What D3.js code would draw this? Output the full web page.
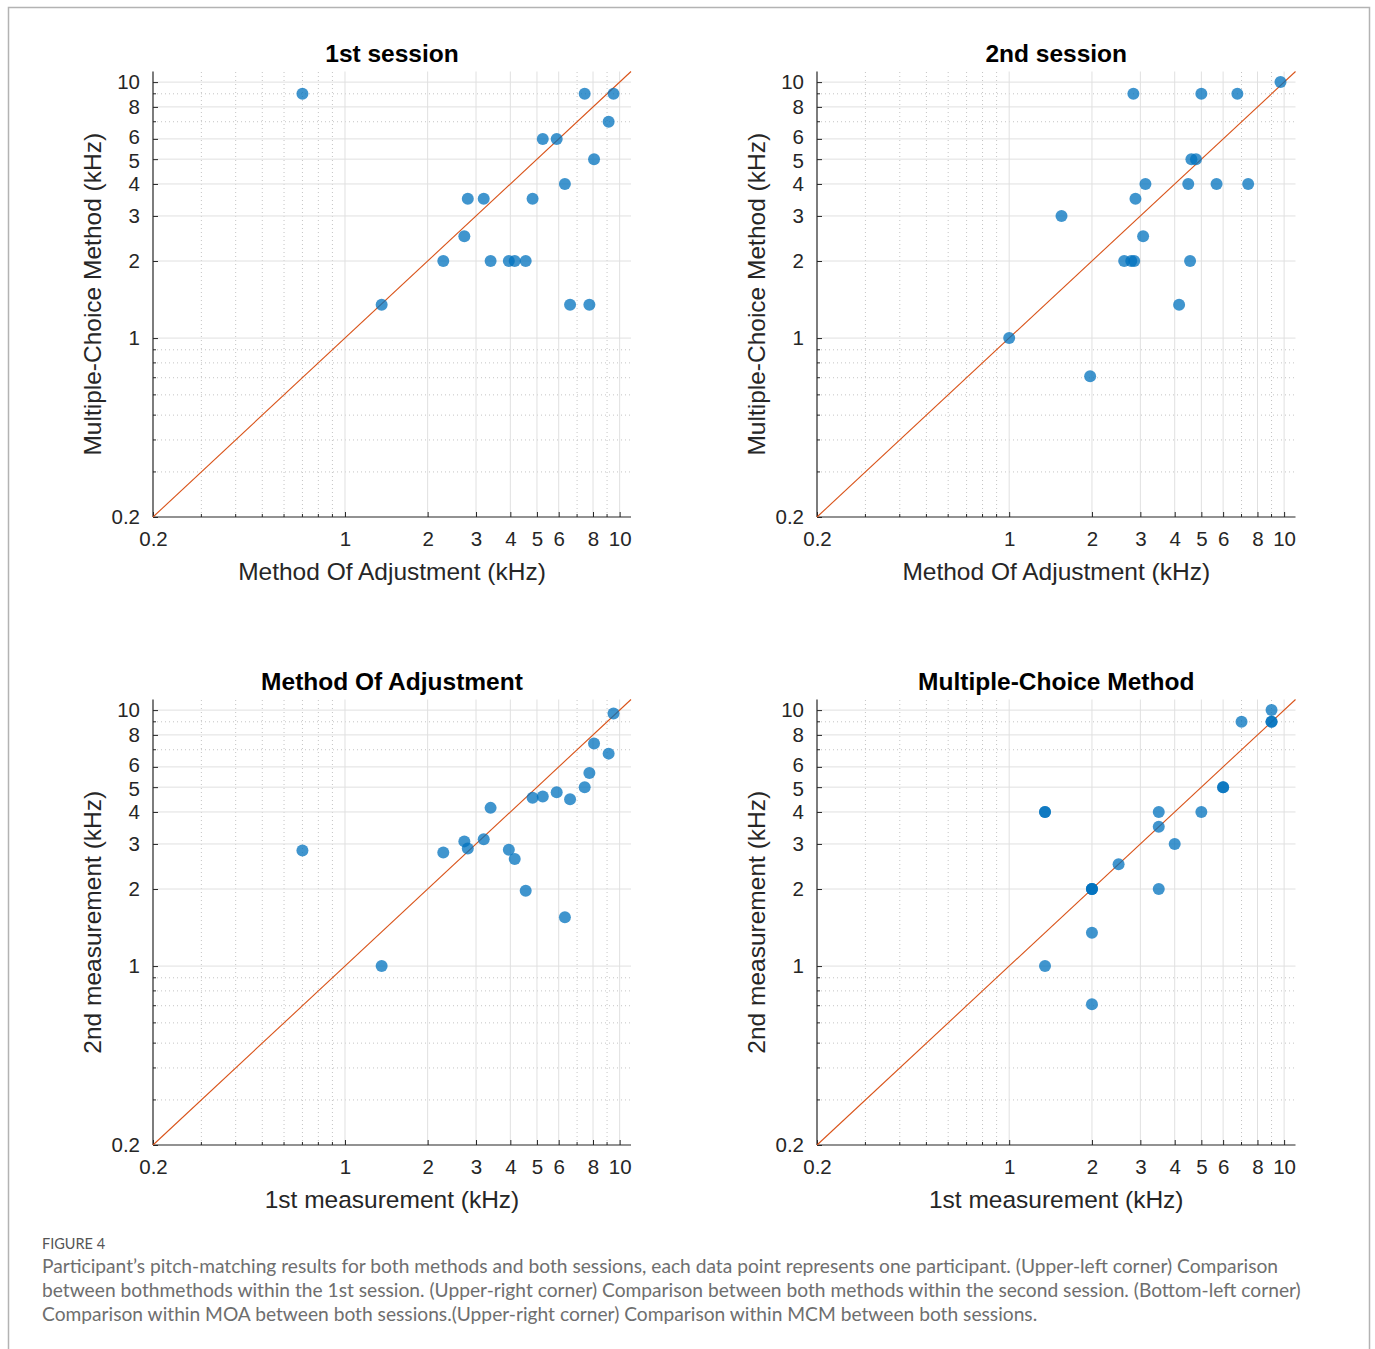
<!DOCTYPE html>
<html>
<head>
<meta charset="utf-8">
<script src="https://cdn.jsdelivr.net/npm/d3@7"></script>
<style>
  html, body { margin: 0; padding: 0; background: #fff; }
  svg { display: block; }
</style>
</head>
<body>
<svg id="fig" width="1375" height="1349"></svg>
<script>
// ---- data (kHz), one entry per participant ----
const moa1 = [0.70, 1.36, 2.28, 2.72, 2.80, 3.20, 3.39, 3.95, 4.15, 4.55, 4.82, 5.25, 5.90, 6.32, 6.60, 7.46, 7.76, 8.07, 9.12, 9.50];
const mcm1 = [9, 1.35, 2, 2.5, 3.5, 3.5, 2, 2, 2, 2, 3.5, 6, 6, 4, 1.35, 9, 1.35, 5, 7, 9];
const moa2 = [2.83, 1.0, 2.78, 3.07, 2.88, 3.13, 4.15, 2.85, 2.62, 1.97, 4.55, 4.6, 4.78, 1.55, 4.48, 5.0, 5.68, 7.4, 6.76, 9.7];
const mcm2 = [9, 1, 2, 2.5, 3.5, 4, 1.35, 2, 2, 0.71, 2, 5, 5, 3, 4, 9, 4, 4, 9, 10];

const panelTitles = ["1st session", "2nd session", "Method Of Adjustment", "Multiple-Choice Method"];
const xLabels = ["Method Of Adjustment (kHz)", "Method Of Adjustment (kHz)", "1st measurement (kHz)", "1st measurement (kHz)"];
const yLabels = ["Multiple-Choice Method (kHz)", "Multiple-Choice Method (kHz)", "2nd measurement (kHz)", "2nd measurement (kHz)"];
const panelX = [moa1, moa2, moa1, mcm1];
const panelY = [mcm1, mcm2, moa2, mcm2];

const domain = [0.2, 11];
const tickValues = [0.2, 1, 2, 3, 4, 5, 6, 8, 10];
const tickLabels = ["0.2", "1", "2", "3", "4", "5", "6", "8", "10"];
const majorGrid = [1, 2, 3, 4, 5, 6, 8, 10];
const minorGrid = [0.3, 0.4, 0.5, 0.6, 0.7, 0.8, 0.9, 7, 9];

const caption = [
  "Participant\u2019s pitch-matching results for both methods and both sessions, each data point represents one participant. (Upper-left corner) Comparison",
  "between bothmethods within the 1st session. (Upper-right corner) Comparison between both methods within the second session. (Bottom-left corner)",
  "Comparison within MOA between both sessions.(Upper-right corner) Comparison within MCM between both sessions."
];

// ---- layout ----
const svg = d3.select("#fig");
const FONT = "'Liberation Sans', Arial, Helvetica, sans-serif";
const axisColor = "#262626";

// border frame
svg.append("rect").attr("x", 8.5).attr("y", 7.5).attr("width", 1361).attr("height", 1360)
  .attr("fill", "none").attr("stroke", "#b3b3b3").attr("stroke-width", 1.5);

const boxes = [
  {x0: 153, x1: 631, y0: 517, y1: 71.5},
  {x0: 817, x1: 1295.5, y0: 517, y1: 71.5},
  {x0: 153, x1: 631, y0: 1145, y1: 699.5},
  {x0: 817, x1: 1295.5, y0: 1145, y1: 699.5}
];

boxes.forEach((b, i) => {
  const x = d3.scaleLog().domain(domain).range([b.x0, b.x1]);
  const y = d3.scaleLog().domain(domain).range([b.y0, b.y1]);
  const g = svg.append("g");

  // minor grid (dotted)
  g.selectAll(".mgx").data(minorGrid).join("line")
    .attr("x1", d => x(d)).attr("x2", d => x(d)).attr("y1", b.y0).attr("y2", b.y1)
    .attr("stroke", "#c4c4c4").attr("stroke-width", 1).attr("stroke-dasharray", "1,3");
  g.selectAll(".mgy").data(minorGrid).join("line")
    .attr("y1", d => y(d)).attr("y2", d => y(d)).attr("x1", b.x0).attr("x2", b.x1)
    .attr("stroke", "#c4c4c4").attr("stroke-width", 1).attr("stroke-dasharray", "1,3");
  // major grid (solid)
  g.selectAll(".Mgx").data(majorGrid).join("line")
    .attr("x1", d => x(d)).attr("x2", d => x(d)).attr("y1", b.y0).attr("y2", b.y1)
    .attr("stroke", "#e0e0e0").attr("stroke-width", 1);
  g.selectAll(".Mgy").data(majorGrid).join("line")
    .attr("y1", d => y(d)).attr("y2", d => y(d)).attr("x1", b.x0).attr("x2", b.x1)
    .attr("stroke", "#e0e0e0").attr("stroke-width", 1);

  // axes (ticks inward)
  const xAxis = d3.axisBottom(x).tickValues(tickValues).tickFormat((d, k) => tickLabels[k])
    .tickSizeInner(-5).tickSizeOuter(0).tickPadding(14);
  const gx = g.append("g").attr("transform", `translate(0,${b.y0})`).call(xAxis);
  const yAxis = d3.axisLeft(y).tickValues(tickValues).tickFormat((d, k) => tickLabels[k])
    .tickSizeInner(-5).tickSizeOuter(0).tickPadding(13);
  const gy = g.append("g").attr("transform", `translate(${b.x0},0)`).call(yAxis);
  [gx, gy].forEach(a => {
    a.select(".domain").attr("stroke", axisColor).attr("stroke-width", 1.2)
      .attr("d", a === gx ? `M${b.x0},0H${b.x1}` : `M0,${b.y0}V${b.y1}`);
    a.selectAll(".tick line").attr("stroke", axisColor);
    a.selectAll(".tick text").attr("fill", axisColor).style("font-family", FONT).style("font-size", "20.5px");
  });
  // keep the closely spaced 5 / 6 labels from touching
  gy.selectAll(".tick text").attr("y", d => d === 6 ? -1.8 : d === 5 ? 1.8 : 0);

  // minor ticks
  g.selectAll(".mtx").data(minorGrid).join("line")
    .attr("x1", d => x(d)).attr("x2", d => x(d)).attr("y1", b.y0).attr("y2", b.y0 - 3)
    .attr("stroke", axisColor);
  g.selectAll(".mty").data(minorGrid).join("line")
    .attr("y1", d => y(d)).attr("y2", d => y(d)).attr("x1", b.x0).attr("x2", b.x0 + 3)
    .attr("stroke", axisColor);

  // identity line
  g.append("line")
    .attr("x1", x(domain[0])).attr("y1", y(domain[0]))
    .attr("x2", x(domain[1])).attr("y2", y(domain[1]))
    .attr("stroke", "#D95319").attr("stroke-width", 1.1);

  // points
  const pts = panelX[i].map((v, k) => [v, panelY[i][k]]);
  g.selectAll(".pt").data(pts).join("circle")
    .attr("cx", d => x(d[0])).attr("cy", d => y(d[1])).attr("r", 6)
    .attr("fill", "#0072BD").attr("fill-opacity", 0.75);

  // title
  const cx = (b.x0 + b.x1) / 2;
  g.append("text").attr("x", cx).attr("y", b.y1 - 10).attr("text-anchor", "middle")
    .style("font-family", FONT).style("font-size", "24.5px").style("font-weight", "bold")
    .attr("fill", "#000").text(panelTitles[i]);
  // x label
  g.append("text").attr("x", cx).attr("y", b.y0 + 63).attr("text-anchor", "middle")
    .style("font-family", FONT).style("font-size", "24.5px").attr("fill", axisColor).text(xLabels[i]);
  // y label
  const cy = (b.y0 + b.y1) / 2;
  g.append("text").attr("transform", `translate(${b.x0 - 52},${cy}) rotate(-90)`)
    .attr("text-anchor", "middle")
    .style("font-family", FONT).style("font-size", "24.5px").attr("fill", axisColor).text(yLabels[i]);
});

// caption
svg.append("text").attr("x", 42).attr("y", 1249)
  .style("font-family", "Lato, 'Open Sans', sans-serif").style("font-size", "14.5px")
  .attr("fill", "#555").text("FIGURE 4");
caption.forEach((t, k) => {
  svg.append("text").attr("x", 42).attr("y", 1273 + k * 24)
    .style("font-family", "Lato, 'Open Sans', sans-serif").style("font-size", "19.2px")
    .attr("fill", "#6e6e6e").text(t);
});
</script>
</body>
</html>
